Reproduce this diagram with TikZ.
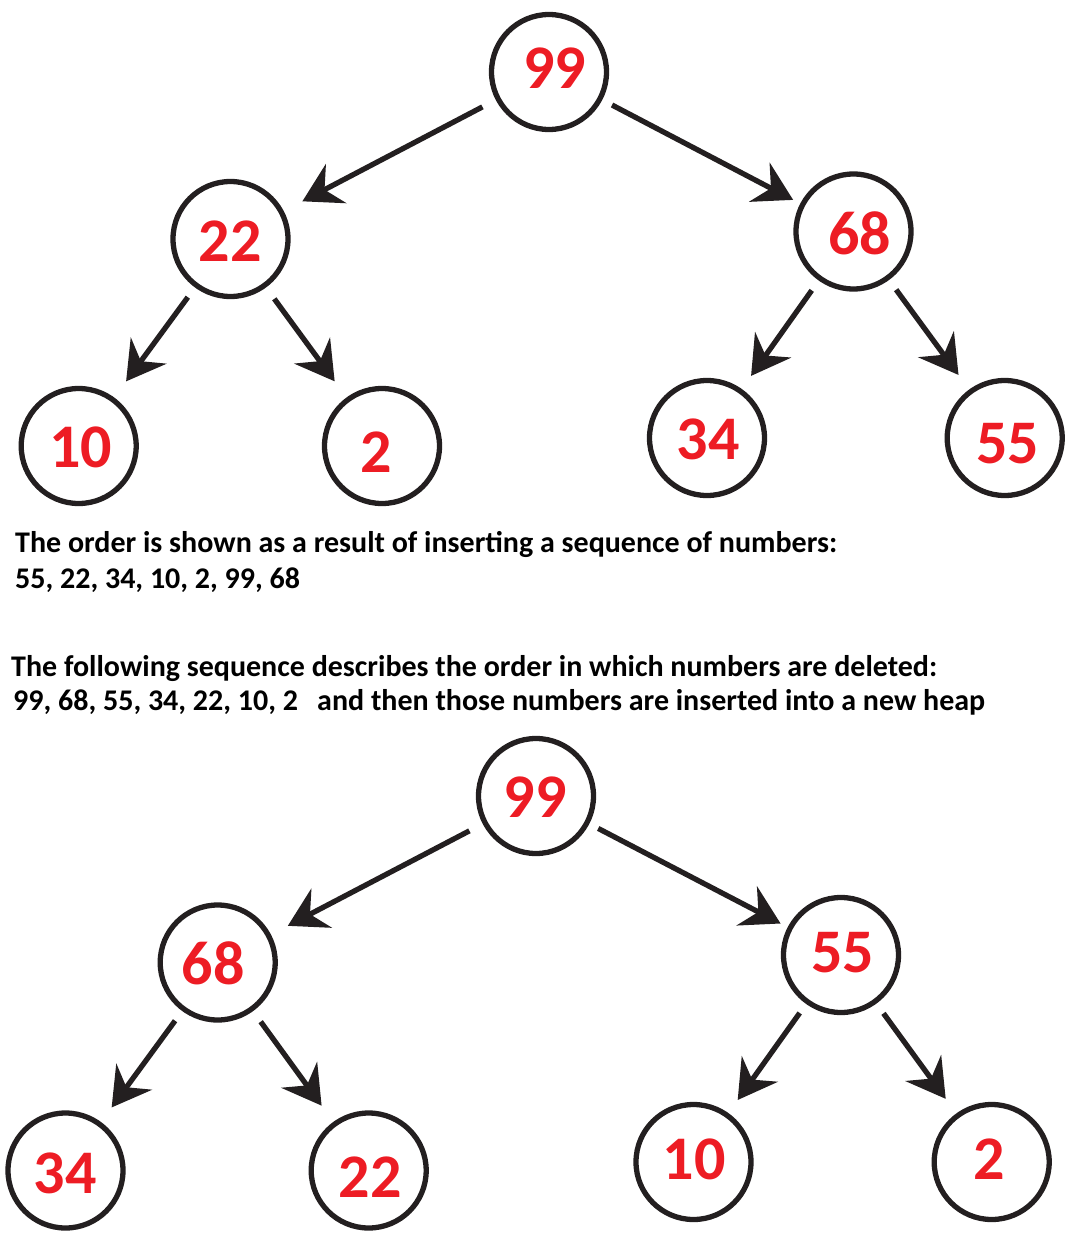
\documentclass[tikz,border=0pt]{standalone}
\usepackage{fontspec}
\setmainfont{Carlito}
\usetikzlibrary{arrows.meta}
\definecolor{ink}{HTML}{231F20}
\definecolor{numred}{HTML}{ED1C24}
\tikzset{
  circ/.style={circle, draw=ink, line width=5.3pt, minimum size=115pt, inner sep=0pt},
  num/.style={text=numred, font=\fontsize{62}{62}\selectfont\bfseries, inner sep=0pt},
  arr/.style={draw=ink, line width=5.3pt, -{Stealth[length=38pt,width=44pt,inset=13pt]}},
  txt/.style={anchor=base west, inner sep=0pt, text=black, font=\fontsize{30}{36}\selectfont\bfseries}
}
\begin{document}
\begin{tikzpicture}[x=1pt,y=-1pt]
\useasboundingbox (0,0) rectangle (1069,1250);
% top tree
\node[circ] (a99) at (549,72) {};
\node[circ] (a22) at (230.5,239) {};
\node[circ] (a68) at (853.5,231.5) {};
\node[circ] (a10) at (78.7,446) {};
\node[circ] (a2) at (382,446) {};
\node[circ] (a34) at (707,438) {};
\node[circ] (a55) at (1004.7,438) {};
\node[num] (n99a) at (554.5,68.3) {99};
\node[num] (n22a) at (230,241) {22};
\node[num] (n68a) at (859.5,233) {68};
\node[num] (n10a) at (80.8,447) {10};
\node[num] (n2a) at (376,452) {2};
\node[num] (n34a) at (708,439.5) {34};
\node[num] (n55a) at (1007.5,444) {55};
\draw[arr, shorten <=15pt, shorten >=21pt] (a99) -- (a22);
\draw[arr, shorten <=11pt, shorten >=8pt] (a99) -- (a68);
\draw[arr, shorten <=12pt, shorten >=20pt] (a22) -- (a10);
\draw[arr, shorten <=14pt, shorten >=20pt] (a22) -- (a2);
\draw[arr, shorten <=12pt, shorten >=16pt] (a68) -- (a34);
\draw[arr, shorten <=12pt, shorten >=18pt] (a68) -- (a55);
% text
\node[txt] (l1) at (15,552) {The order is shown as a result of inserting a sequence of numbers:};
\node[txt] (l2) at (15,588) {55, 22, 34, 10, 2, 99, 68};
\node[txt] (l3) at (11,676.5) {The following sequence describes the order in which numbers are deleted:};
\node[txt] (l4) at (13,710) {99, 68, 55, 34, 22, 10, 2};
\node[txt] (l5) at (317,710) {and then those numbers are inserted into a new heap};
% bottom tree
\node[circ] (b99) at (536,796) {};
\node[circ] (b68) at (217.7,962.5) {};
\node[circ] (b55) at (841,955) {};
\node[circ] (b34) at (65.5,1170.5) {};
\node[circ] (b22) at (368.7,1170.5) {};
\node[circ] (b10) at (693.5,1162) {};
\node[circ] (b2) at (991.7,1162) {};
\node[num] (n99b) at (535,797) {99};
\node[num] (n68b) at (213,963) {68};
\node[num] (n55b) at (842.5,953) {55};
\node[num] (n34b) at (65,1173) {34};
\node[num] (n22b) at (370,1177) {22};
\node[num] (n10b) at (694,1159.5) {10};
\node[num] (n2b) at (989,1159) {2};
\draw[arr, shorten <=15pt, shorten >=19pt] (b99) -- (b68);
\draw[arr, shorten <=10pt, shorten >=8pt] (b99) -- (b55);
\draw[arr, shorten <=12pt, shorten >=18pt] (b68) -- (b34);
\draw[arr, shorten <=13pt, shorten >=20pt] (b68) -- (b22);
\draw[arr, shorten <=11pt, shorten >=16pt] (b55) -- (b10);
\draw[arr, shorten <=12pt, shorten >=18pt] (b55) -- (b2);
\end{tikzpicture}
\end{document}
